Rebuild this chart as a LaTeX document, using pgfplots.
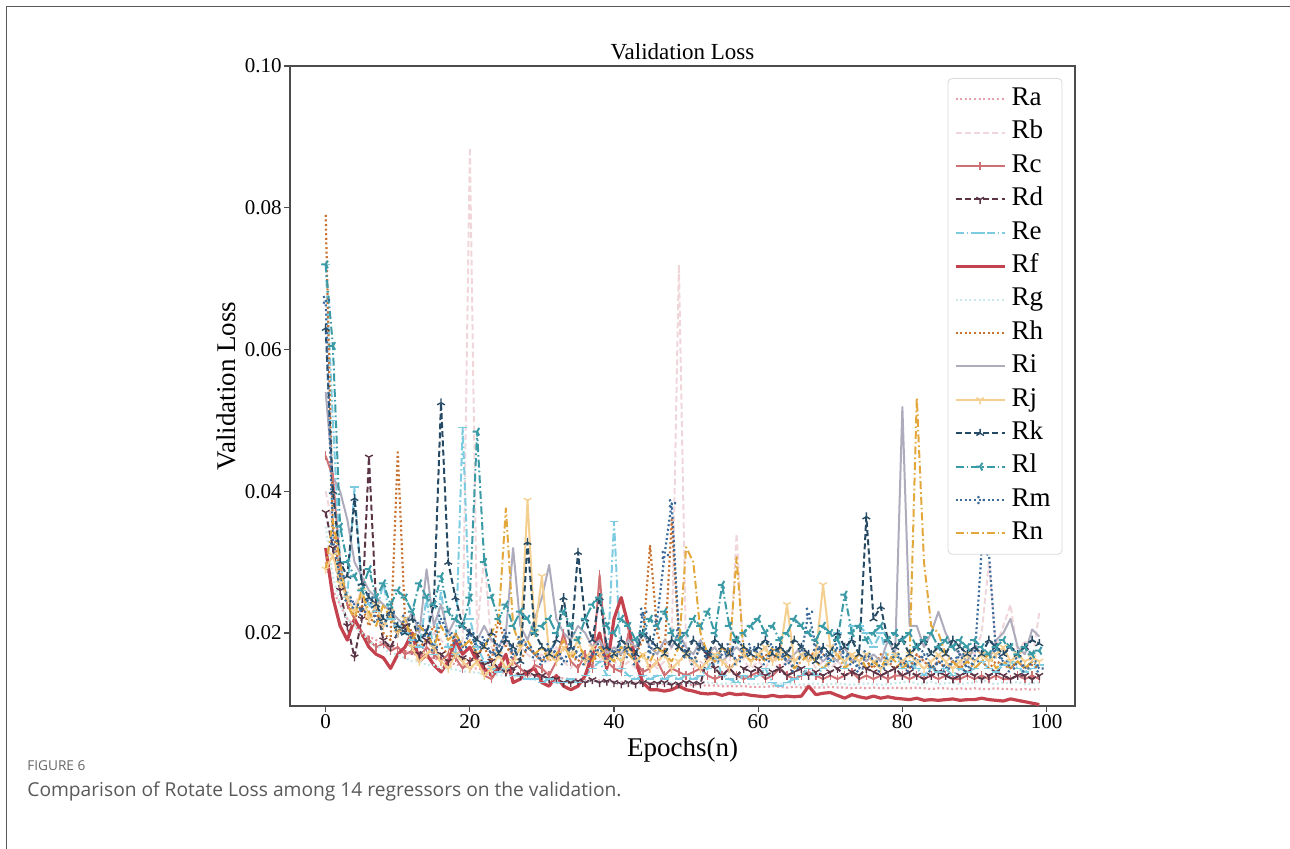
\documentclass[border=0pt]{standalone}
\usepackage{pgfplots}
\pgfplotsset{compat=1.18}
\usetikzlibrary{plotmarks}
\usepackage{fontspec}
\setmainfont{Liberation Serif}
\newfontfamily\capfont{Open Sans}

\definecolor{cRa}{RGB}{232,160,170}
\definecolor{cRb}{RGB}{240,214,219}
\definecolor{cRc}{RGB}{207,112,116}
\definecolor{cRd}{RGB}{91,52,70}
\definecolor{cRe}{RGB}{125,203,224}
\definecolor{cRf}{RGB}{196,66,77}
\definecolor{cRg}{RGB}{200,232,234}
\definecolor{cRh}{RGB}{201,112,47}
\definecolor{cRi}{RGB}{174,171,188}
\definecolor{cRj}{RGB}{244,207,143}
\definecolor{cRk}{RGB}{38,74,99}
\definecolor{cRl}{RGB}{58,154,165}
\definecolor{cRm}{RGB}{58,106,154}
\definecolor{cRn}{RGB}{226,168,60}

\pgfplotsset{
  ser/.style={line width=1pt, line join=round, mark size=2.2pt, mark options={solid, line width=0.7pt}},
  dashd/.style={dash pattern=on 3pt off 1.6pt},
  dotd/.style={line width=1.1pt, dash pattern=on 1pt off 1.3pt},
  dashdotd/.style={dash pattern=on 4pt off 1.5pt on 0.8pt off 1.5pt},
}

\begin{document}
\begin{tikzpicture}
\begin{axis}[
  scale only axis,
  width=392.5pt, height=320pt,
  at={(145pt,-353pt)}, anchor=south west,
  xmin=-4.95, xmax=103.95, ymin=0.0097, ymax=0.10,
  xtick={0,20,40,60,80,100},
  ytick={0.02,0.04,0.06,0.08,0.10},
  yticklabel style={/pgf/number format/.cd, fixed, fixed zerofill, precision=2},
  /pgf/number format/assume math mode=true,
  tick label style={font=\fontsize{10.5}{12}\selectfont, inner sep=1pt},
  xtick pos=bottom, ytick pos=left,
  tick align=outside, major tick length=3pt,
  axis line style={line width=0.55pt, black!70},
  tick style={line width=0.55pt, black!70},
  title={Validation Loss},
  title style={font=\fontsize{11.5}{13}\selectfont, yshift=-6.5pt},
  xlabel={Epochs(n)}, ylabel={Validation Loss},
  label style={font=\fontsize{13.5}{15}\selectfont},
  xlabel style={yshift=0pt},
  legend cell align=left,
  legend image code/.code={\draw[mark repeat=2, mark phase=2, #1] plot coordinates {(0cm,0cm) (0.43cm,0cm) (0.86cm,0cm)};},
  legend style={at={(rel axis cs:0.984,0.981)}, anchor=north east, draw=black!15, rounded corners=2pt,
    font=\fontsize{13.5}{15}\selectfont, nodes={text height=8.8pt, text depth=2.5pt, inner sep=2.7pt}},
]
% Ra
\addplot[ser, cRa, dotd] table[x expr=\coordindex, y expr=\thisrowno{0}/1000, row sep=\\, header=false] {30\\26\\24\\22\\21\\20\\19.5\\19\\18.5\\18\\
18\\17.5\\17\\17\\16.5\\16.5\\16\\16\\15.5\\15.5\\
15\\15\\14.8\\14.6\\14.5\\14.4\\14.3\\14.2\\14\\14\\
13.9\\13.8\\13.7\\13.6\\13.5\\13.5\\13.4\\13.3\\13.3\\13.2\\
13.1\\13.1\\13\\13\\12.9\\12.9\\12.8\\12.8\\12.8\\12.7\\
12.7\\12.7\\12.6\\12.6\\12.6\\12.5\\12.5\\12.5\\12.5\\12.4\\
12.4\\12.4\\12.5\\12.4\\12.3\\12.4\\12.3\\12.4\\12.3\\12.3\\
12.4\\12.3\\12.3\\12.2\\12.3\\12.2\\12.3\\12.2\\12.2\\12.3\\
12.2\\12.2\\12.3\\12.2\\12.1\\12.2\\12.2\\12.1\\12.2\\12.1\\
12.2\\12.1\\12.1\\12.2\\12.1\\12.1\\12.0\\12.1\\12.0\\12.1\\};
\addlegendentry{Ra}
% Rb
\addplot[ser, cRb, dashd] table[x expr=\coordindex, y expr=\thisrowno{0}/1000, row sep=\\, header=false] {40\\35\\28\\25\\24\\26\\22\\24\\21\\23\\
20\\22\\19\\21\\18\\20\\19\\18\\17\\19\\
88.5\\20\\31\\18\\17\\19\\16\\18\\17\\16\\
17\\16\\18\\16\\15\\17\\16\\15\\16\\17\\
16\\15\\16\\15\\17\\16\\15\\16\\18\\72\\
17\\15\\16\\15\\16\\17\\15\\34\\16\\15\\
16\\15\\17\\15\\16\\15\\16\\17\\15\\16\\
15\\16\\15\\17\\16\\15\\16\\15\\16\\17\\
16\\15\\17\\16\\15\\16\\17\\16\\15\\18\\
17\\20\\30\\18\\21\\24\\17\\19\\16\\23\\};
\addlegendentry{Rb}
% Rc
\addplot[ser, cRc, mark=|] table[x expr=\coordindex, y expr=\thisrowno{0}/1000, row sep=\\, header=false] {45\\42\\30\\24\\22\\20\\19\\18\\18.5\\17.5\\
18\\17\\17.5\\16.5\\18\\17\\16\\17\\16.5\\15\\
16\\16.5\\14\\13.5\\15\\14.5\\16\\15\\14\\15.5\\
15\\14\\16\\20\\16\\15\\17\\15\\28.2\\16\\
15\\14.5\\20\\16\\14.5\\15\\16\\14\\15\\14.5\\
14\\14.5\\15\\14\\13.5\\14\\15\\14\\13.5\\14\\
14.5\\13.5\\14\\15\\14\\13.5\\14\\14.5\\14\\13.5\\
14\\13.5\\14\\14.5\\13.5\\14\\13.5\\14\\13.5\\14\\
14\\13.5\\14\\13.5\\14\\13.5\\14\\13.5\\13.5\\14\\
13.5\\14\\13.5\\14\\13.5\\13.5\\14\\13.5\\14\\13.5\\};
\addlegendentry{Rc}
% Rd
\addplot[ser, cRd, dashd, mark=Mercedes star flipped] table[x expr=\coordindex, y expr=\thisrowno{0}/1000, row sep=\\, header=false] {37\\32\\26\\21\\16.6\\22\\44.8\\24\\19\\18\\
20\\21\\18\\17\\19\\18\\17\\16\\17\\16.5\\
16\\17\\15.5\\16\\15\\14.5\\15\\14\\14.5\\14\\
14\\13.5\\13.5\\13\\13\\13.2\\13\\13.4\\13\\13.2\\
13\\12.8\\13\\12.8\\13\\12.8\\12.9\\13\\12.7\\12.8\\
13\\12.9\\12.8\\17\\15\\14\\15\\14\\15\\14.5\\
15\\14\\14.5\\15\\14\\14.5\\15\\14\\14.5\\14\\
14.5\\15\\14\\14.5\\14\\15\\14.5\\14\\14.5\\15\\
14\\14.5\\14\\13.5\\14\\14.5\\14\\13.5\\14\\14.5\\
14\\13.5\\14\\14.5\\14\\13.5\\14\\14\\13.5\\14\\};
\addlegendentry{Rd}
% Re
\addplot[ser, cRe, dashdotd, mark=-] table[x expr=\coordindex, y expr=\thisrowno{0}/1000, row sep=\\, header=false] {72\\50\\30\\25\\40.6\\26\\24\\23\\27\\22\\
21\\20\\19\\18\\25\\17\\26\\18\\17\\49\\
22\\18\\16\\15\\14.5\\15\\14\\14\\13.5\\13.5\\
13\\13.5\\13\\13\\13.5\\13\\14\\15\\16\\14\\
35.7\\15\\14\\13.5\\14\\13.5\\14\\13.5\\14\\13.5\\
14\\13.5\\14\\15\\17\\14\\13.5\\13\\14\\13.5\\
14\\15\\13\\12.5\\13\\13.5\\14\\15\\14\\15\\
16\\20\\15\\21\\21\\20\\18\\20\\16\\17\\
15\\16\\15\\14\\15\\14.5\\15\\14\\15\\14.5\\
15\\16\\15\\14.5\\15.5\\16\\15\\14.5\\15\\15.5\\};
\addlegendentry{Re}
% Rf
\addplot[ser, cRf, line width=1.6pt] table[x expr=\coordindex, y expr=\thisrowno{0}/1000, row sep=\\, header=false] {32\\25\\21\\19\\22\\20\\18\\17\\16.5\\15\\
17\\18\\20\\16\\17\\15.5\\14.5\\16\\19\\17\\
18\\16\\15\\14\\15\\17\\13\\13.5\\14.5\\15\\
13\\12.5\\14\\12.5\\12\\12.5\\14\\17\\20\\15\\
22\\25\\21\\16\\13\\12\\12\\11.8\\12\\12.5\\
12\\11.8\\11.5\\11.4\\11.5\\11.2\\11.5\\11.3\\11.4\\11.2\\
11.1\\11\\11.2\\11\\11.1\\11\\11.1\\12.5\\11.3\\11.5\\
11.6\\11.2\\10.8\\11.3\\11\\10.8\\11.1\\10.8\\11.0\\10.8\\
10.7\\10.6\\10.8\\10.5\\10.6\\10.5\\10.6\\10.7\\10.5\\10.6\\
10.6\\10.8\\10.6\\10.5\\10.4\\10.7\\10.5\\10.3\\10.1\\9.9\\};
\addlegendentry{Rf}
% Rg
\addplot[ser, cRg, dotd] table[x expr=\coordindex, y expr=\thisrowno{0}/1000, row sep=\\, header=false] {35\\28\\24\\22\\21\\20\\19\\18\\18\\17\\
17\\16.5\\16\\16\\15.5\\15.5\\15\\15\\14.8\\14.6\\
14.5\\14.4\\14.3\\14.2\\14\\14\\13.9\\13.8\\13.7\\13.6\\
13.5\\13.5\\13.4\\13.4\\13.3\\13.3\\13.2\\13.2\\13.2\\13.1\\
13.1\\13\\13\\13\\13.1\\13\\13\\12.9\\13\\12.9\\
13\\12.9\\12.9\\13\\12.9\\12.8\\12.9\\12.8\\12.9\\12.8\\
12.8\\12.9\\12.8\\12.8\\12.9\\12.8\\12.7\\12.8\\12.9\\12.7\\
12.8\\12.9\\12.8\\12.7\\12.8\\12.9\\12.8\\12.7\\12.8\\12.9\\
13\\13.2\\12.8\\12.9\\13.1\\12.8\\12.9\\13\\12.8\\12.9\\
13\\13.5\\12.9\\12.8\\13\\12.9\\13.1\\12.8\\12.9\\13\\};
\addlegendentry{Rg}
% Rh
\addplot[ser, cRh, dotd] table[x expr=\coordindex, y expr=\thisrowno{0}/1000, row sep=\\, header=false] {79\\35\\28\\25\\22\\24\\21\\23\\20\\19\\
45.5\\22\\20\\18\\19\\21\\18\\17\\20\\18\\
19\\17\\18\\16\\22\\18\\17\\16\\18\\17\\
16\\17\\16\\18\\17\\16\\17\\16\\17\\18\\
16\\17\\18\\17\\19\\32.4\\20\\17\\36\\19\\
17\\16\\18\\17\\16\\18\\17\\16\\18\\17\\
16\\17\\16\\18\\17\\16\\17\\16\\18\\17\\
16\\17\\18\\16\\17\\16\\15\\17\\16\\15\\
16\\15\\17\\16\\15\\16\\15\\16\\15\\16\\
15\\16\\15\\16\\15.5\\15\\16\\15\\15.5\\15\\};
\addlegendentry{Rh}
% Ri
\addplot[ser, cRi] table[x expr=\coordindex, y expr=\thisrowno{0}/1000, row sep=\\, header=false] {54\\42\\40\\36\\30\\28\\26\\25\\24\\23\\
22\\21\\23\\20\\29\\21\\24\\20\\22\\21\\
20\\19\\21\\19\\18\\20\\32\\21\\19\\22\\
25\\29.6\\22\\20\\19\\21\\20\\18\\19\\17\\
18\\17\\19\\18\\20\\18\\17\\19\\18\\20\\
18\\17\\19\\17\\18\\16\\17\\18\\17\\16\\
17\\18\\16\\17\\16\\17\\18\\16\\17\\16\\
17\\16\\18\\16\\17\\16\\17\\16\\19\\17\\
51.9\\21\\21\\18\\20\\23\\20\\18\\17\\16\\
18\\17\\16\\19\\20\\22\\18\\17\\20.5\\19.5\\};
\addlegendentry{Ri}
% Rj
\addplot[ser, cRj, mark=Mercedes star flipped] table[x expr=\coordindex, y expr=\thisrowno{0}/1000, row sep=\\, header=false] {29\\31\\27\\25\\23\\26\\22\\24\\21\\23\\
20\\22\\18\\16\\17\\18\\16\\15\\17\\16\\
15\\16\\14\\15\\17\\15\\16\\18\\38.7\\20\\
28\\17\\16\\18\\17\\19\\16\\18\\17\\16\\
17\\16\\18\\16\\17\\15\\16\\17\\15\\16\\
17\\16\\15\\16\\17\\16\\15\\16\\17\\16\\
17\\18\\16\\17\\24\\16\\17\\16\\17\\26.8\\
18\\17\\16\\17\\16\\17\\16\\15\\16\\17\\
16\\17\\16\\15\\16\\17\\16\\15\\16\\17\\
16\\17\\16\\17\\18\\16\\17\\16\\16.5\\16\\};
\addlegendentry{Rj}
% Rk
\addplot[ser, cRk, dashd, mark=Mercedes star] table[x expr=\coordindex, y expr=\thisrowno{0}/1000, row sep=\\, header=false] {63\\40\\30\\28\\39\\27\\25\\24\\22\\23\\
21\\20\\22\\19\\20\\24\\52.5\\30\\25\\21\\
20\\19\\18\\20\\17\\19\\18\\16\\32.8\\20\\
18\\17\\19\\25\\18\\31.4\\22\\19\\25\\18\\
17\\19\\18\\17\\20\\19\\18\\17\\19\\18\\
17\\19\\18\\17\\19\\18\\17\\19\\18\\17\\
18\\19\\17\\18\\17\\19\\18\\17\\16\\18\\
17\\20\\18\\19\\17\\36.4\\22\\23.7\\19\\18\\
19\\17\\18\\19\\17\\18\\17\\19\\18\\17\\
18\\17\\19\\18\\17\\18\\17\\18\\19\\18.5\\};
\addlegendentry{Rk}
% Rl
\addplot[ser, cRl, dashdotd, mark=Mercedes star, mark options={rotate=90}] table[x expr=\coordindex, y expr=\thisrowno{0}/1000, row sep=\\, header=false] {72\\60.5\\35\\30\\28\\26\\29\\25\\27\\24\\
26\\25\\23\\27\\25\\24\\28\\23\\22\\21\\
25\\48.4\\30\\25\\22\\24\\21\\23\\22\\20\\
21\\22\\20\\23\\21\\19\\22\\24\\25\\21\\
20\\22\\21\\19\\20\\22\\21\\23\\20\\19\\
20\\22\\21\\23\\20\\26.8\\21\\19\\20\\21\\
22\\20\\21\\19\\20\\22\\21\\20\\19\\21\\
20\\19\\25.4\\20\\21\\19\\20\\21\\19\\20\\
19\\20\\18\\19\\20\\18\\19\\18\\19\\18\\
19\\18\\17\\18\\19\\18\\17\\18\\17\\17.5\\};
\addlegendentry{Rl}
% Rm
\addplot[ser, cRm, dotd, mark=Mercedes star, mark options={rotate=-90}] table[x expr=\coordindex, y expr=\thisrowno{0}/1000, row sep=\\, header=false] {67\\33\\28\\25\\24\\23\\25\\22\\21\\23\\
20\\22\\19\\21\\20\\18\\22\\20\\19\\18\\
20\\18\\19\\17\\18\\20\\17\\19\\18\\17\\
16\\18\\17\\16\\18\\17\\16\\17\\18\\16\\
17\\18\\17\\16\\23\\17\\22\\31\\38.3\\20\\
17\\16\\18\\17\\16\\17\\18\\16\\17\\18\\
17\\16\\18\\17\\16\\15\\17\\23\\18\\17\\
16\\18\\17\\16\\15\\17\\16\\15\\16\\17\\
16\\15\\16\\17\\15\\16\\15\\16\\17\\15\\
16\\31.7\\31.5\\17\\16\\15\\16\\15\\16\\15\\};
\addlegendentry{Rm}
% Rn
\addplot[ser, cRn, dashdotd] table[x expr=\coordindex, y expr=\thisrowno{0}/1000, row sep=\\, header=false] {29\\36\\30\\24\\22\\26\\23\\21\\24\\22\\
20\\22\\19\\21\\20\\18\\21\\19\\20\\18\\
19\\17\\18\\20\\22\\37.6\\21\\18\\19\\17\\
18\\16\\17\\19\\16\\18\\17\\16\\18\\17\\
16\\18\\17\\16\\17\\16\\18\\17\\16\\18\\
32.1\\30\\20\\17\\16\\18\\17\\30.7\\17\\16\\
17\\16\\18\\16\\17\\15\\16\\17\\16\\15\\
16\\17\\15\\16\\17\\15\\16\\15\\17\\16\\
15\\16\\53.2\\30\\21\\20\\17\\16\\15\\16\\
15\\16\\17\\15\\16\\15\\16\\15\\16\\15.5\\};
\addlegendentry{Rn}
\end{axis}
\draw[black!65, line width=0.75pt] (3.25pt,-424.5pt) -- (3.25pt,-3.25pt) -- (645pt,-3.25pt);
\node[anchor=west, inner sep=0pt, text=black!60, font=\capfont\fontsize{6.8}{8}\selectfont] at (13.5pt,-383pt) {FIGURE 6};
\node[anchor=west, inner sep=0pt, text=black!65, font=\capfont\fontsize{9.6}{11}\selectfont] at (13.5pt,-395.5pt) {Comparison of Rotate Loss among 14 regressors on the validation.};
\pgfresetboundingbox
\path[use as bounding box] (0,0) rectangle (645pt,-424.5pt);
\end{tikzpicture}
\end{document}
